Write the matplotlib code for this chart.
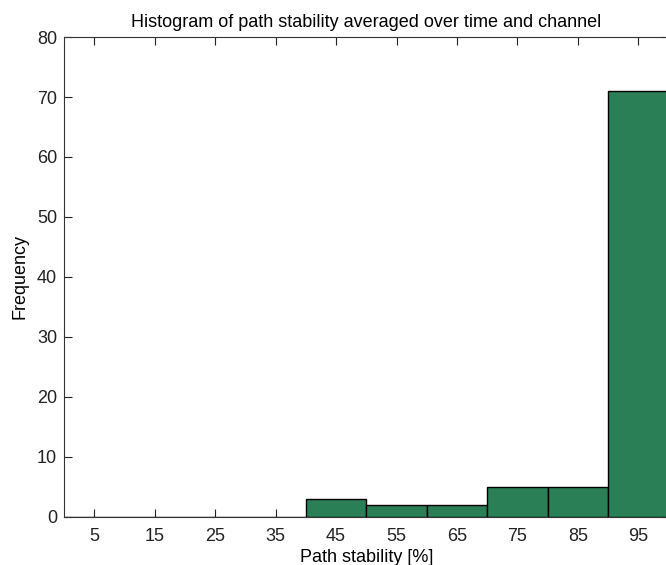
import numpy as np
import matplotlib
matplotlib.use("Agg")
import matplotlib.pyplot as plt

plt.rcParams['font.family'] = ['Liberation Sans', 'DejaVu Sans']

# histogram bins (path stability, %) and counts
bin_edges = [0, 10, 20, 30, 40, 50, 60, 70, 80, 90, 100]
counts = [0, 0, 0, 0, 3, 2, 2, 5, 5, 71]
tick_vals = [5, 15, 25, 35, 45, 55, 65, 75, 85, 95]

fig = plt.figure(figsize=(6.66, 5.65), dpi=100)
ax = fig.add_axes([0.096, 0.085, 0.908, 0.8495])

lefts = np.array(bin_edges[:-1])
widths = np.diff(bin_edges)
ax.bar(lefts, counts, width=widths, align='edge', color='#2b7f56',
       edgecolor='black', linewidth=1.0, zorder=2)

ax.set_xlim(0, 100)
ax.set_ylim(0, 80)
ax.set_xticks(tick_vals)
ax.set_yticks(np.arange(0, 81, 10))
ax.tick_params(direction='in', length=6, top=True, right=True,
               labelsize=13, colors='#222222', pad=5)
ax.tick_params(axis='x', pad=8)
for s in ax.spines.values():
    s.set_color('#333333')

ax.set_xlabel('Path stability [%]', fontsize=13, labelpad=3)
ax.set_ylabel('Frequency', fontsize=13, labelpad=6)
ax.set_title('Histogram of path stability averaged over time and channel',
             fontsize=13, pad=7)

fig.savefig('out.png', dpi=100)
